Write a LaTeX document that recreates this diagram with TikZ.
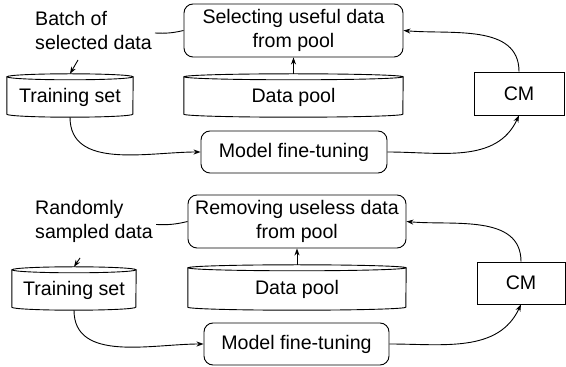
\documentclass[tikz,border=0pt]{standalone}
\usepackage{fontspec}
\setmainfont{Liberation Sans}
\usetikzlibrary{arrows.meta}
\newcommand\cylshape[6]{%
  \node[cylbox, minimum width=#4pt, minimum height=#5pt] (#1) at (#2,#3) {#6};
  \draw[conn] ([yshift=-3pt]#1.north west) -- ([yshift=3pt]#1.south west)
    arc[start angle=180, end angle=360, x radius=#4pt/2, y radius=3pt]
    -- ([yshift=-3pt]#1.north east);
  \draw[conn] ([yshift=-3pt]#1.north) ellipse[x radius=#4pt/2, y radius=3pt];
}
\begin{document}
\begin{tikzpicture}[x=1pt, y=1pt,
  every node/.style={font=\fontsize{19.6}{24}\selectfont, inner sep=0pt},
  rbox/.style={draw, rounded corners=9pt, align=center, line width=0.9pt},
  sbox/.style={draw, line width=0.9pt},
  cylbox/.style={align=center, text depth=0pt, yshift=-2pt},
  conn/.style={line width=0.9pt},
  arr/.style={conn, -{Stealth[length=7pt, width=5pt]}},
  lbl/.style={align=left, anchor=west}
]
\useasboundingbox (0,0) rectangle (566,367);

% ---------- top panel ----------
\node[lbl] (lb1) at (35,337) {Batch of\\selected data};
\node[rbox, minimum width=219pt, minimum height=53pt] (sel) at (293.5,336.5) {Selecting useful data\\from pool};
\cylshape{ts}{70}{273.5}{126}{43}{Training set}
\cylshape{dp}{293.5}{273.5}{219}{43}{Data pool}
\node[sbox, minimum width=90pt, minimum height=43pt] (cm) at (519,273.5) {CM};
\node[rbox, minimum width=186pt, minimum height=42pt] (mf) at (294,215) {Model fine-tuning};
\coordinate (a1) at (78,307);

\draw[conn] (sel.west) to[bend left=8] ([xshift=3pt,yshift=-3pt]lb1.east);
\draw[arr] (a1) -- (ts.north);
\draw[arr] (dp.north) -- (sel.south);
\draw[arr] (ts.south) to[out=-90, in=180] (mf.west);
\draw[arr] (mf.east) to[out=0, in=-115] (cm.south);
\draw[arr] (cm.north) to[out=90, in=-5] (sel.east);

% ---------- bottom panel ----------
\node[lbl] (lb2) at (35,145.5) {Randomly\\sampled data};
\node[rbox, minimum width=218pt, minimum height=53pt] (rem) at (297,145.5) {Removing useless data\\from pool};
\cylshape{ts2}{74}{80.5}{124}{43}{Training set}
\cylshape{dp2}{297}{81.5}{218}{45}{Data pool}
\node[sbox, minimum width=88pt, minimum height=42pt] (cm2) at (521,84) {CM};
\node[rbox, minimum width=185pt, minimum height=42pt] (mf2) at (296.5,23) {Model fine-tuning};
\coordinate (a2) at (80,109);

\draw[conn] (rem.west) to[bend left=8] ([xshift=3pt,yshift=-3pt]lb2.east);
\draw[arr] (a2) -- (ts2.north);
\draw[arr] (dp2.north) -- (rem.south);
\draw[arr] (ts2.south) to[out=-90, in=180] (mf2.west);
\draw[arr] (mf2.east) to[out=0, in=-115] (cm2.south);
\draw[arr] (cm2.north) to[out=90, in=-5] (rem.east);
\end{tikzpicture}
\end{document}
